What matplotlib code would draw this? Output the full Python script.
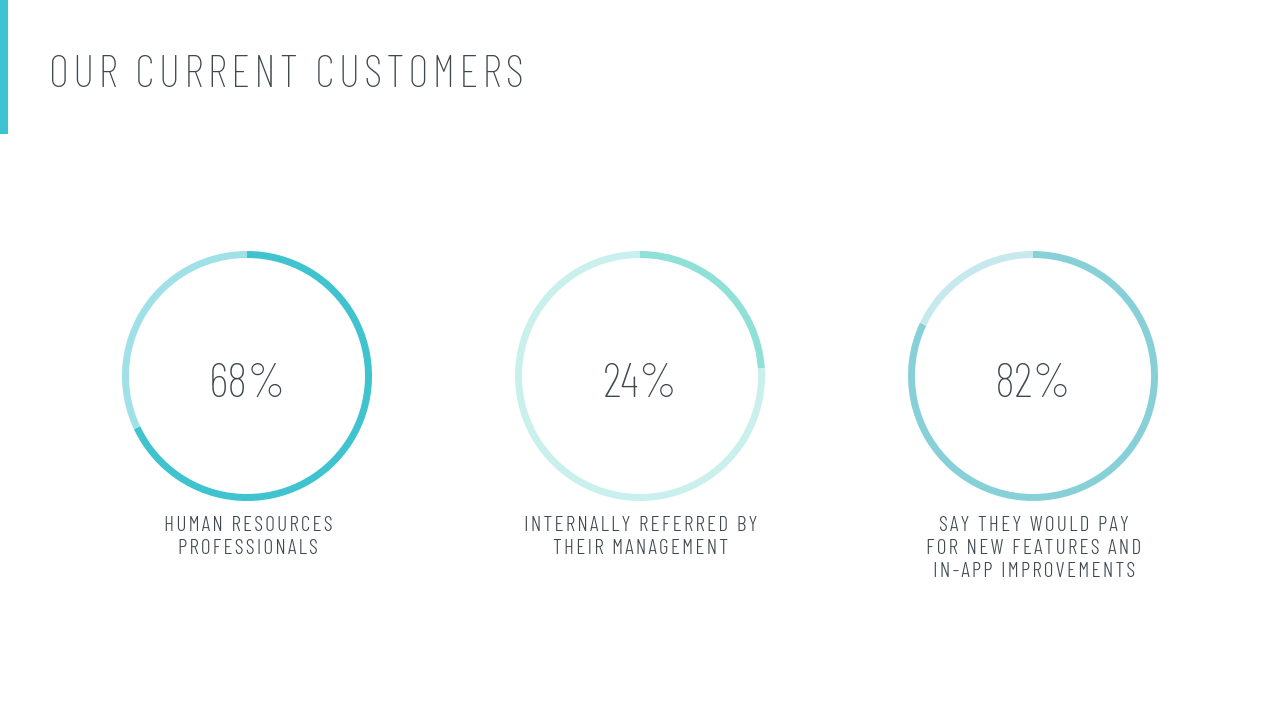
import matplotlib
matplotlib.use('Agg')
import matplotlib.pyplot as plt
from matplotlib.patches import Rectangle

# ------------ DATA -------------------
title = "OUR CURRENT CUSTOMERS"
values = [68, 24, 82]
labels = ["HUMAN RESOURCES\nPROFESSIONALS",
          "INTERNALLY REFERRED BY\nTHEIR MANAGEMENT",
          "SAY THEY WOULD PAY\nFOR NEW FEATURES AND\nIN-APP IMPROVEMENTS"]
main_colors = ['#3ec3cf', '#8fe0d7', '#88d0d8']
rest_colors = ['#a0e1e8', '#c9f0ec', '#c7e9ee']

# ------------ STYLE -------------------
font = ['Barlow Condensed', 'DejaVu Sans']
fw = 250
text_col = '#3e484d'
W, H = 1280, 720
centers_x = [247, 640, 1033]
center_y = 376
radius_px = 125
ring_px = 7


def track(s, n=1):
    # fake letter spacing with hair spaces
    sp = '\u200a' * n
    return "\n".join(sp.join(line) for line in s.split("\n"))


fig = plt.figure(figsize=(W / 100, H / 100), dpi=100)
fig.patch.set_facecolor('white')

# background axes in pixel coords
bg = fig.add_axes([0, 0, 1, 1])
bg.set_xlim(0, W)
bg.set_ylim(H, 0)
bg.axis('off')
bg.add_patch(Rectangle((0, 0), 8, 134, color='#3cc4d2', lw=0))
bg.text(49, 87, track(title), family=font, weight=fw, fontsize=32, color=text_col,
        ha='left', va='baseline')

pad = 1.04
for cx, v, lab, c1, c2 in zip(centers_x, values, labels, main_colors, rest_colors):
    size = 2 * radius_px * pad
    ax = fig.add_axes([(cx - size / 2) / W, (H - center_y - size / 2) / H, size / W, size / H])
    ax.pie([v, 100 - v], colors=[c1, c2], startangle=90, counterclock=False,
           radius=1, wedgeprops=dict(width=ring_px / radius_px, linewidth=0))
    ax.set_xlim(-pad, pad)
    ax.set_ylim(-pad, pad)
    ax.set_aspect('equal')
    ax.axis('off')
    bg.text(cx, 397, f"{v}%", family=font, weight=fw, fontsize=35, color=text_col,
            ha='center', va='baseline')
    bg.text(cx + 1, 516, track(lab), family=font, weight=300, fontsize=15.5, color=text_col,
            ha='center', va='top', linespacing=1.28, multialignment='center')

fig.savefig('out.png', dpi=100)
